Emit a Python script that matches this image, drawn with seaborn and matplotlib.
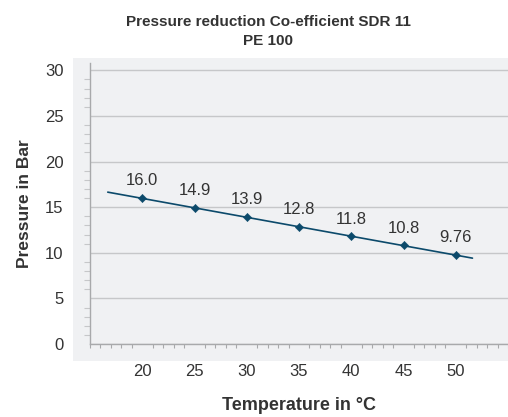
import numpy as np
import pandas as pd
import matplotlib
matplotlib.use("Agg")
import matplotlib.pyplot as plt
import seaborn as sns
from matplotlib.patches import Rectangle
from matplotlib.ticker import MultipleLocator

# data
temperature = [20, 25, 30, 35, 40, 45, 50]
pressure = [16.0, 14.9, 13.9, 12.8, 11.8, 10.8, 9.76]
point_labels = ["16.0", "14.9", "13.9", "12.8", "11.8", "10.8", "9.76"]
# trendline is drawn a bit beyond the first and last point
trend_start, trend_end = 16.7, 51.6

title = "Pressure reduction Co-efficient SDR 11\nPE 100"
x_label = "Temperature in \u00b0C"
y_label = "Pressure in Bar"

line_color = "#0c4a6b"
panel_color = "#f0f1f3"
grid_color = "#c6c7c9"
tick_color = "#a8a9ab"
text_color = "#333333"

sns.set_theme(style="white")
plt.rcParams["font.family"] = ["Liberation Sans", "DejaVu Sans"]

df = pd.DataFrame({"temperature": temperature, "pressure": pressure})

# linear trendline through the points
slope, intercept = np.polyfit(df["temperature"], df["pressure"], 1)
trend_x = np.array([trend_start, trend_end])
trend = pd.DataFrame({"temperature": trend_x, "pressure": slope * trend_x + intercept})

fig = plt.figure(figsize=(5.08, 4.17), dpi=100)
fig.patches.append(Rectangle((0.1437, 0.134), 0.86, 0.727, transform=fig.transFigure,
                             facecolor=panel_color, edgecolor="none", zorder=-10))
ax = fig.add_axes([90 / 508, 73 / 417, 418 / 508, 281 / 417])
ax.set_facecolor(panel_color)

sns.lineplot(data=trend, x="temperature", y="pressure", ax=ax, color=line_color, linewidth=1.2)
sns.scatterplot(data=df, x="temperature", y="pressure", ax=ax, marker="D", s=18,
                color=line_color, edgecolor=line_color, zorder=5)

for t, p, lab in zip(temperature, pressure, point_labels):
    ax.annotate(lab, (t, p), xytext=(0, 7), textcoords="offset points",
                ha="center", va="bottom", fontsize=12, color=text_color)

ax.set_xlim(15, 55)
ax.set_ylim(0, 30.8)
ax.set_xticks([20, 25, 30, 35, 40, 45, 50])
ax.xaxis.set_minor_locator(MultipleLocator(1))
ax.set_yticks([0, 5, 10, 15, 20, 25, 30])
ax.yaxis.set_minor_locator(MultipleLocator(1))

ax.grid(axis="y", which="major", color=grid_color, linewidth=1)
ax.grid(axis="x", visible=False)
ax.set_axisbelow(True)

for side in ["top", "right"]:
    ax.spines[side].set_visible(False)
for side in ["left", "bottom"]:
    ax.spines[side].set_color(tick_color)
    ax.spines[side].set_linewidth(1)

ax.tick_params(axis="y", which="major", direction="out", length=9, width=1,
               color=grid_color, labelsize=12, labelcolor=text_color, pad=10)
ax.tick_params(axis="y", which="minor", direction="out", length=4, width=0.8,
               color=grid_color, left=True)
ax.tick_params(axis="x", which="major", direction="out", length=6.5, width=0.8,
               color=tick_color, labelsize=12, labelcolor=text_color, pad=8)
ax.tick_params(axis="x", which="minor", direction="out", length=3, width=0.8,
               color=tick_color, bottom=True)

ax.set_xlabel(x_label, fontsize=13, fontweight="bold", color=text_color, labelpad=13)
ax.set_ylabel(y_label, fontsize=12.5, fontweight="bold", color=text_color, labelpad=9)
fig.text(0.5 + 14 / 508, 1 - 31.5 / 417, title, ha="center", va="center", fontsize=11,
         fontweight="bold", color=text_color, linespacing=1.45)

fig.savefig("out.png", dpi=100, facecolor="white")
